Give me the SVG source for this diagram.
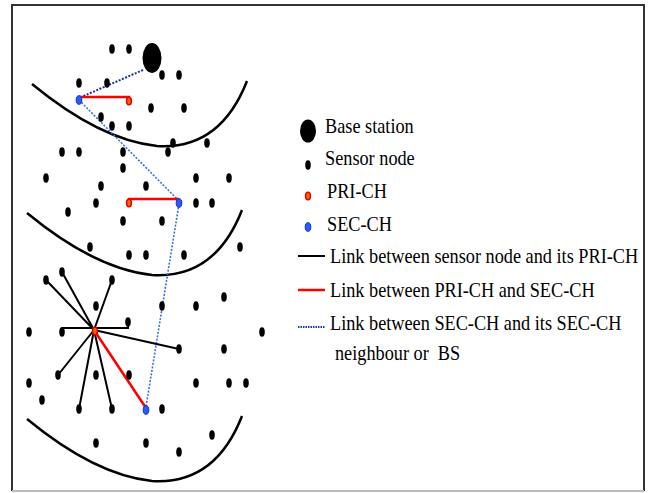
<svg xmlns="http://www.w3.org/2000/svg" xmlns:xlink="http://www.w3.org/1999/xlink" width="652" height="493" viewBox="0 0 652 493">
<style>
.sn{fill:#000}
.pri{fill:#ff6a00;stroke:#e00000;stroke-width:1.5}
.sec{fill:#2a5bff;stroke:#1030c0;stroke-width:1}
.arc{fill:none;stroke:#000;stroke-width:2.5}
.blk{stroke:#000;stroke-width:2;fill:none}
.red{stroke:#f00;stroke-width:2.5;fill:none}
.bd1{stroke:#1a2cb0;stroke-width:2;stroke-dasharray:2 1.5;fill:none}
.bd2{stroke:#3a6ee8;stroke-width:1.6;stroke-dasharray:2 1.5;fill:none}
text{font-family:"Liberation Serif","Times New Roman",Times,serif;font-size:22px;fill:#000}
</style>
<defs>
<ellipse id="d" class="sn" cx="0" cy="0" rx="2.8" ry="4.8"/>
<ellipse id="p" class="pri" cx="0" cy="0" rx="2.4" ry="3.8"/>
<ellipse id="s" class="sec" cx="0" cy="0" rx="2.8" ry="4.3"/>
<path id="arc" class="arc" d="M32,84 Q100,140 157,146 Q220,150 247,81"/>
</defs>
<rect x="0" y="0" width="652" height="493" fill="#fff"/>
<g id="frame" fill="none">
<path d="M12,491 L12,5 L644,5 L644,491" stroke="#333" stroke-width="2"/>
<path d="M12,491 L644,491" stroke="#bbb" stroke-width="2"/>
</g>
<g id="zones">
<use href="#arc"/>
<use href="#arc" transform="translate(-5,129)"/>
<use href="#arc" transform="translate(-5,335)"/>
</g>
<g id="connectors">
<path class="bd1" d="M143,70 L79,98"/>
<path class="bd2" d="M79,100 L179,201"/>
<path class="bd2" d="M179,204 L146,407"/>
<path class="red" d="M79,97 L129,97 L129,100"/>
<path class="red" d="M129,202 L129,199 L179,199"/>
<path class="blk" d="M94,330 L46,280 M94,330 L62,272 M94,330 L112,280 M62,332 L62,328 L128,328 L128,323 M94,330 L179,349 M94,330 L58,375 M94,330 L79,409 M94,330 L112,409"/>
<path class="red" d="M94,330 L146,408"/>
</g>
<g id="bs"><ellipse cx="152" cy="58" rx="9.5" ry="15" fill="#000"/></g>
<g id="pri1"><use href="#p" x="129" y="101"/></g>
<g id="sec1"><use href="#s" x="79" y="100"/></g>
<g id="pri2"><use href="#p" x="129" y="203"/></g>
<g id="sec2"><use href="#s" x="179" y="203"/></g>
<g id="pri3"><use href="#p" x="95" y="331"/></g>
<g id="sec3"><use href="#s" x="146" y="410"/></g>
<g id="sensors">
<g id="n1"><use href="#d" x="112" y="49"/></g>
<g id="n2"><use href="#d" x="129" y="49"/></g>
<g id="n3"><use href="#d" x="162" y="75"/></g>
<g id="n4"><use href="#d" x="179" y="75"/></g>
<g id="n5"><use href="#d" x="79" y="83"/></g>
<g id="n6"><use href="#d" x="107" y="83"/></g>
<g id="n7"><use href="#d" x="151" y="108"/></g>
<g id="n8"><use href="#d" x="184" y="108"/></g>
<g id="n9"><use href="#d" x="101" y="117"/></g>
<g id="n10"><use href="#d" x="112" y="126"/></g>
<g id="n11"><use href="#d" x="129" y="126"/></g>
<g id="n12"><use href="#d" x="173" y="143"/></g>
<g id="n13"><use href="#d" x="207" y="143"/></g>
<g id="n14"><use href="#d" x="62" y="152"/></g>
<g id="n15"><use href="#d" x="79" y="152"/></g>
<g id="n16"><use href="#d" x="123" y="152"/></g>
<g id="n17"><use href="#d" x="168" y="152"/></g>
<g id="n18"><use href="#d" x="123" y="168"/></g>
<g id="n19"><use href="#d" x="46" y="178"/></g>
<g id="n20"><use href="#d" x="101" y="186"/></g>
<g id="n21"><use href="#d" x="146" y="186"/></g>
<g id="n22"><use href="#d" x="196" y="178"/></g>
<g id="n23"><use href="#d" x="229" y="178"/></g>
<g id="n24"><use href="#d" x="96" y="203"/></g>
<g id="n25"><use href="#d" x="196" y="203"/></g>
<g id="n26"><use href="#d" x="212" y="203"/></g>
<g id="n27"><use href="#d" x="68" y="212"/></g>
<g id="n28"><use href="#d" x="123" y="221"/></g>
<g id="n29"><use href="#d" x="162" y="221"/></g>
<g id="n30"><use href="#d" x="90" y="247"/></g>
<g id="n31"><use href="#d" x="129" y="255"/></g>
<g id="n32"><use href="#d" x="146" y="255"/></g>
<g id="n33"><use href="#d" x="184" y="255"/></g>
<g id="n34"><use href="#d" x="240" y="247"/></g>
<g id="n35"><use href="#d" x="46" y="280"/></g>
<g id="n36"><use href="#d" x="62" y="272"/></g>
<g id="n37"><use href="#d" x="112" y="280"/></g>
<g id="n38"><use href="#d" x="96" y="306"/></g>
<g id="n39"><use href="#d" x="162" y="306"/></g>
<g id="n40"><use href="#d" x="196" y="306"/></g>
<g id="n41"><use href="#d" x="224" y="297"/></g>
<g id="n42"><use href="#d" x="128" y="322"/></g>
<g id="n43"><use href="#d" x="29" y="332"/></g>
<g id="n44"><use href="#d" x="62" y="332"/></g>
<g id="n45"><use href="#d" x="262" y="332"/></g>
<g id="n46"><use href="#d" x="179" y="349"/></g>
<g id="n47"><use href="#d" x="224" y="349"/></g>
<g id="n48"><use href="#d" x="58" y="375"/></g>
<g id="n49"><use href="#d" x="96" y="375"/></g>
<g id="n50"><use href="#d" x="129" y="375"/></g>
<g id="n51"><use href="#d" x="29" y="383"/></g>
<g id="n52"><use href="#d" x="196" y="383"/></g>
<g id="n53"><use href="#d" x="229" y="383"/></g>
<g id="n54"><use href="#d" x="246" y="383"/></g>
<g id="n55"><use href="#d" x="42" y="400"/></g>
<g id="n56"><use href="#d" x="79" y="409"/></g>
<g id="n57"><use href="#d" x="112" y="409"/></g>
<g id="n58"><use href="#d" x="162" y="409"/></g>
<g id="n59"><use href="#d" x="96" y="443"/></g>
<g id="n60"><use href="#d" x="146" y="443"/></g>
<g id="n61"><use href="#d" x="179" y="452"/></g>
<g id="n62"><use href="#d" x="212" y="435"/></g>
</g>
<g id="legend">
<ellipse cx="308" cy="131" rx="8" ry="11.5" fill="#000"/>
<use href="#d" x="308" y="165"/>
<use href="#p" x="308" y="196"/>
<use href="#s" x="308" y="227"/>
<line x1="298" y1="256" x2="325" y2="256" stroke="#000" stroke-width="2"/>
<line x1="298" y1="290" x2="325" y2="290" stroke="#f00" stroke-width="2.5"/>
<line x1="298" y1="327" x2="325" y2="327" stroke="#2030e0" stroke-width="2" stroke-dasharray="1.5 1"/>
<g transform="scale(0.83,1)">
<text x="391.6" y="133">Base station</text>
<text x="391.6" y="165">Sensor node</text>
<text x="394" y="198">PRI-CH</text>
<text x="394" y="231">SEC-CH</text>
<text x="397.6" y="263">Link between sensor node and its PRI-CH</text>
<text x="397.6" y="297">Link between PRI-CH and SEC-CH</text>
<text x="397.6" y="330">Link between SEC-CH and its SEC-CH</text>
<text x="403.6" y="360" xml:space="preserve">neighbour or  BS</text>
</g>
</g>
</svg>
